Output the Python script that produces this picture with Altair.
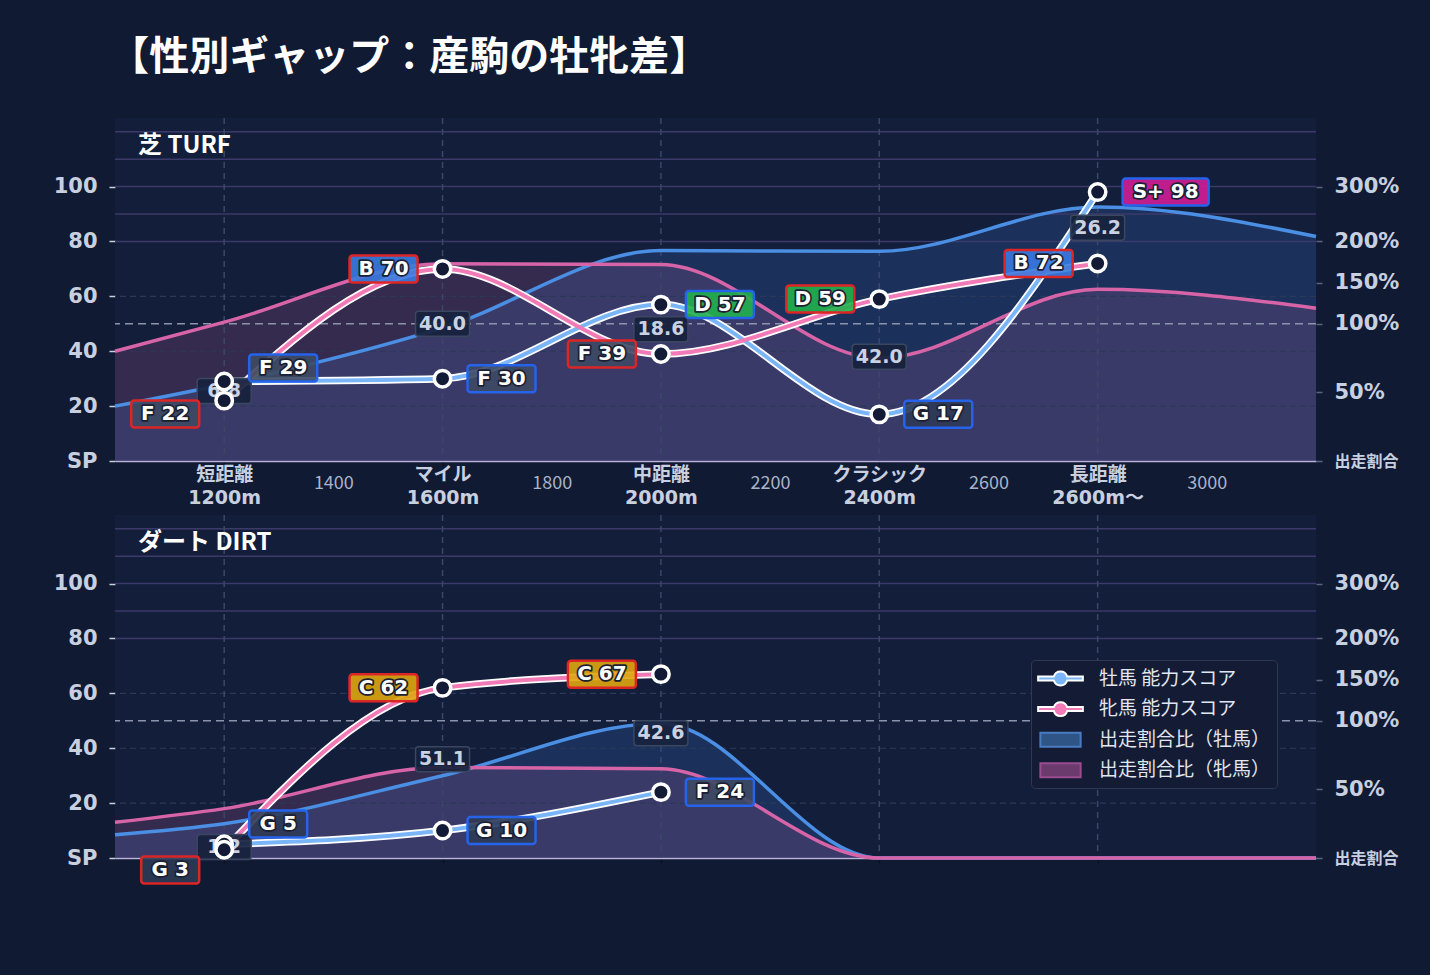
import altair as alt
import numpy as np
import pandas as pd

# ---------------- data ----------------
CATS = [1200, 1600, 2000, 2400, 2800]
CAT_NAMES = ["短距離", "マイル", "中距離", "クラシック", "長距離"]
CAT_DISTS = ["1200m", "1600m", "2000m", "2400m", "2600m〜"]
NUM_TICKS = [1400, 1800, 2200, 2600, 3000]
X_DOMAIN = [1000, 3200]

TURF_M_SCORE = [29, 30, 57, 17, 98]
TURF_M_GRADE = ["F", "F", "D", "G", "S+"]
TURF_F_SCORE = [22, 70, 39, 59, 72]
TURF_F_GRADE = ["F", "B", "F", "D", "B"]
TURF_GAP = [6.8, 40.0, 18.6, 42.0, 26.2]

DIRT_M_SCORE = [5, 10, 24]
DIRT_M_GRADE = ["G", "G", "F"]
DIRT_F_SCORE = [3, 62, 67]
DIRT_F_GRADE = ["G", "C", "C"]
DIRT_GAP = [1.2, 51.1, 42.6]

RATIO_X = [1000, 1200, 1600, 2000, 2400, 2800, 3200]
TURF_RATIO_M = [40, 56, 97, 189, 188, 263, 209]
TURF_RATIO_F = [80, 102, 173, 172, 75, 142, 119]
DIRT_RATIO_M = [17, 25, 60, 98, 0, 0, 0]
DIRT_RATIO_F = [26, 36, 66, 65, 0, 0, 0]

SCORE_TICKS = [0, 20, 40, 60, 80, 100]
RATIO_TICKS = [0, 50, 100, 150, 200, 300]
RATIO_AXIS_POS = [0, 25, 50, 65, 80, 100]
GRID_SOLID = [80, 90, 100, 110, 120]
GRID_DASH = [20, 40, 60]
RATIO_REF = 100

MAIN_TITLE = "【性別ギャップ：産駒の牡牝差】"
PANEL_TITLES = ["芝 TURF", "ダート DIRT"]
SERIES = ["牡馬 能力スコア", "牝馬 能力スコア", "出走割合比（牡馬）", "出走割合比（牝馬）"]
GRADES = ["S+", "B", "C", "D", "F", "G"]
GRADE_COLORS = ["#d11d96", "#3a7ae0", "#dfa50f", "#22b14c", "#3d4a64", "#2e3b56"]

# ---------------- style ----------------
W, H = 1201, 343
Y_DOMAIN = [0, 125]
BG = "#101a32"
PLOT_BG = "#131e3b"
M_LINE = "#79b5f7"
F_LINE = "#f27ab6"
M_RATIO = "#4a8fe3"
F_RATIO = "#d864a8"
M_BORDER = "#2563eb"
F_BORDER = "#dc2626"
TXT = "#c8d0e0"
NUM_FONT = "DejaVu Sans, Noto Sans CJK JP"
JP_FONT = "Noto Sans CJK JP"
BOX_W = {3: 58, 4: 68, 5: 86}
BOX_H = 27
GAP_W, GAP_H = 54, 25
NUDGE = 8.4  # score units, label separation when points collide
PX_OFF = 25


def ratio_to_pos(r):
    return np.interp(r, RATIO_TICKS, RATIO_AXIS_POS)


def box_path(w, h, r=3.0):
    hh = h / w
    rr = r / (w / 2.0)
    f = lambda v: f"{v:.4f}"
    return (f"M{f(-1+rr)},{f(-hh)}H{f(1-rr)}A{f(rr)},{f(rr)} 0 0 1 {f(1)},{f(-hh+rr)}"
            f"V{f(hh-rr)}A{f(rr)},{f(rr)} 0 0 1 {f(1-rr)},{f(hh)}H{f(-1+rr)}"
            f"A{f(rr)},{f(rr)} 0 0 1 {f(-1)},{f(hh-rr)}V{f(-hh+rr)}"
            f"A{f(rr)},{f(rr)} 0 0 1 {f(-1+rr)},{f(-hh)}Z")


LINE_SYM = ("M-2,-0.18L-0.594,-0.18A0.62,0.62 0 0 1 0.594,-0.18L2,-0.18L2,0.18"
            "L0.594,0.18A0.62,0.62 0 0 1 -0.594,0.18L-2,0.18Z")
RECT_SYM = "M-1.8,-0.62H1.8V0.62H-1.8Z"

xs = alt.Scale(domain=X_DOMAIN, nice=False, zero=False)
ys = alt.Scale(domain=Y_DOMAIN, nice=False, zero=False)

cat_test = "indexof([" + ",".join(str(c) for c in CATS) + "], datum.value) >= 0"
label_expr = ""
for c, nm, d in zip(CATS, CAT_NAMES, CAT_DISTS):
    label_expr += f"datum.value == {c} ? ['{nm}', '{d}'] : "
label_expr += "datum.label"

X_AXIS_TOP = alt.Axis(
    values=sorted(CATS + NUM_TICKS), format="d", labelExpr=label_expr, grid=False,
    domainColor="#b8b4da", domainWidth=1.5, tickSize=5, tickWidth=1.5,
    tickColor={"condition": {"test": cat_test, "value": "#0b1020"}, "value": "transparent"},
    labelFont={"condition": {"test": cat_test, "value": NUM_FONT}, "value": JP_FONT},
    labelFontWeight={"condition": {"test": cat_test, "value": "bold"}, "value": "normal"},
    labelFontSize={"condition": {"test": cat_test, "value": 19}, "value": 18},
    labelColor={"condition": {"test": cat_test, "value": TXT}, "value": "#a9b3c9"},
    labelBaseline={"condition": {"test": cat_test, "value": "middle"}, "value": "top"},
    labelPadding=8, labelLineHeight=23, labelAngle=0,
    labelFlush=False, labelOverlap=False, labelBound=False, title=None)

X_AXIS_BOTTOM = alt.Axis(values=CATS, labels=False, grid=False, domainColor="#b8b4da",
                         domainWidth=1.5, tickSize=5, tickWidth=1.5, tickColor="#0b1020",
                         title=None)

Y_LEFT = alt.Axis(orient="left", values=SCORE_TICKS,
                  labelExpr="datum.value == 0 ? 'SP' : datum.label", grid=False,
                  domain=False, tickSize=6, tickColor=TXT, tickWidth=1.5,
                  labelFont="DejaVu Sans", labelFontWeight="bold", labelFontSize=21,
                  labelColor=TXT, labelPadding=12, title=None)

r_expr = ""
for p, t in zip(RATIO_AXIS_POS, RATIO_TICKS):
    txt = "出走割合" if t == 0 else f"{t}%"
    r_expr += f"datum.value == {p} ? '{txt}' : "
r_expr += "''"
Y_RIGHT = alt.Axis(orient="right", values=RATIO_AXIS_POS, labelExpr=r_expr, grid=False,
                   domain=False, tickSize=6, tickColor="#5a6480", tickWidth=1.5,
                   labelFont=NUM_FONT, labelFontWeight="bold",
                   labelFontSize={"condition": {"test": "datum.value == 0", "value": 16},
                                  "value": 21},
                   labelColor=TXT, labelPadding=12, title=None)


def panel(title, m_score, m_grade, f_score, f_grade, gaps, ratio_m, ratio_f,
          x_axis, with_legend):
    n = len(m_score)
    cats = CATS[:n]

    rows = []
    gap_rows = []
    for i, c in enumerate(cats):
        m, f = m_score[i], f_score[i]
        mid = (m + f) / 2.0
        half = abs(m - f) / 2.0
        s = 1 if m >= f else -1
        if half < NUDGE:
            mly, fly = mid + s * NUDGE, mid - s * NUDGE
        else:
            mly, fly = m, f
        rows.append(dict(dist=c, sex="m", score=m, grade=m_grade[i], ly=mly))
        rows.append(dict(dist=c, sex="f", score=f, grade=f_grade[i], ly=fly))
        gap_rows.append(dict(dist=c, mid=mid, gap=f"{gaps[i]:.1f}"))
    sc = pd.DataFrame(rows)
    sc["label"] = sc["grade"] + " " + sc["score"].astype(str)
    sc["bw"] = sc["label"].str.len().map(BOX_W)
    sc["gfill"] = sc["grade"].map(dict(zip(GRADES, GRADE_COLORS)))
    sc["lc"] = sc["sex"].map({"m": M_LINE, "f": F_LINE})
    gp = pd.DataFrame(gap_rows)

    rt = pd.DataFrame({
        "dist": RATIO_X * 2,
        "sex": ["m"] * len(RATIO_X) + ["f"] * len(RATIO_X),
        "rv": list(ratio_to_pos(ratio_m)) + list(ratio_to_pos(ratio_f)),
    })

    X = lambda ax=None: alt.X("dist:Q", scale=xs, axis=ax, title=None)

    layers = []
    # ratio areas (first layer carries the x axis)
    rbase = alt.Chart(rt)
    layers.append(rbase.transform_filter("datum.sex == 'm'").mark_area(
        interpolate="monotone", fill="#3a78d0", fillOpacity=0.22).encode(
        x=X(x_axis), y=alt.Y("rv:Q", scale=ys, axis=Y_RIGHT, title=None)))
    layers.append(rbase.transform_filter("datum.sex == 'f'").mark_area(
        interpolate="monotone", fill="#b8609a", fillOpacity=0.2).encode(
        x=X(), y=alt.Y("rv:Q", scale=ys, axis=None)))

    # grid
    layers.append(alt.Chart(pd.DataFrame({"v": GRID_SOLID})).mark_rule(
        color="#3b3a6a", strokeWidth=1.5).encode(y=alt.Y("v:Q", scale=ys, axis=None)))
    layers.append(alt.Chart(pd.DataFrame({"v": GRID_DASH})).mark_rule(
        color="#2c3858", strokeWidth=1.2, strokeDash=[6, 4]).encode(
        y=alt.Y("v:Q", scale=ys, axis=None)))
    layers.append(alt.Chart(pd.DataFrame({"v": [float(ratio_to_pos(RATIO_REF))]})).mark_rule(
        color="#8c94ac", strokeWidth=1.5, strokeDash=[8, 5]).encode(
        y=alt.Y("v:Q", scale=ys, axis=None)))
    layers.append(alt.Chart(pd.DataFrame({"d": CATS})).mark_rule(
        color="#3c4768", strokeWidth=1.5, strokeDash=[6, 5]).encode(
        x=alt.X("d:Q", scale=xs, axis=None)))

    # ratio lines
    layers.append(rbase.transform_filter("datum.sex == 'm'").mark_line(
        interpolate="monotone", color=M_RATIO, strokeWidth=3.5).encode(
        x=X(), y=alt.Y("rv:Q", scale=ys, axis=None)))
    layers.append(rbase.transform_filter("datum.sex == 'f'").mark_line(
        interpolate="monotone", color=F_RATIO, strokeWidth=3.5).encode(
        x=X(), y=alt.Y("rv:Q", scale=ys, axis=None)))

    # score lines
    sbase = alt.Chart(sc)
    layers.append(sbase.mark_line(interpolate="monotone", color="white", strokeWidth=7.5,
                                  strokeCap="round").encode(
        x=X(), y=alt.Y("score:Q", scale=ys, axis=Y_LEFT, title=None),
        detail="sex:N"))
    layers.append(sbase.mark_line(interpolate="monotone", strokeWidth=4,
                                  strokeCap="round").encode(
        x=X(), y=alt.Y("score:Q", scale=ys, axis=None),
        stroke=alt.Stroke("lc:N", scale=None), detail="sex:N"))

    # gap labels
    gbase = alt.Chart(gp).encode(x=X(), y=alt.Y("mid:Q", scale=ys, axis=None))
    layers.append(gbase.mark_point(shape=box_path(GAP_W, GAP_H), size=GAP_W ** 2,
                                   filled=True, fill="#17223d", fillOpacity=0.92,
                                   stroke="#3a4760", strokeWidth=1.5, opacity=1))
    layers.append(gbase.mark_text(font=NUM_FONT, fontWeight="bold", fontSize=19,
                                  color="#c9d2e3", baseline="middle", align="center").encode(
        text="gap:N"))

    # points
    layers.append(sbase.mark_point(shape="circle", filled=True, fill="#121a35",
                                   stroke="white", strokeWidth=3.5, size=270, opacity=1).encode(
        x=X(), y=alt.Y("score:Q", scale=ys, axis=None)))

    # grade labels
    for sex, sign, border in [("m", 1, M_BORDER), ("f", -1, F_BORDER)]:
        for w in sorted(set(sc.loc[sc.sex == sex, "bw"])):
            off = sign * (PX_OFF + w / 2.0)
            sub = sbase.transform_filter(f"datum.sex == '{sex}' && datum.bw == {w}").encode(
                x=X(), y=alt.Y("ly:Q", scale=ys, axis=None))
            layers.append(sub.mark_point(shape=box_path(w, BOX_H), size=w ** 2, filled=True,
                                         xOffset=off, fillOpacity=0.9, stroke=border,
                                         strokeWidth=2.5, opacity=1).encode(
                fill=alt.Fill("gfill:N", scale=None)))
            layers.append(sub.mark_text(dx=off, font=NUM_FONT, fontWeight="bold", fontSize=20,
                                        fill="#1b2033", stroke="#1b2033", strokeWidth=3.5,
                                        strokeJoin="round", baseline="middle",
                                        align="center").encode(text="label:N"))
            layers.append(sub.mark_text(dx=off, font=NUM_FONT, fontWeight="bold", fontSize=20,
                                        fill="white", baseline="middle",
                                        align="center").encode(text="label:N"))

    # panel title, anchored at the top-left corner of the plot domain
    layers.append(alt.Chart(pd.DataFrame({"t": [title]})).mark_text(
        dx=23, dy=28, align="left", baseline="middle", font=JP_FONT, fontWeight="bold",
        fontSize=24, color="white").encode(
        x=alt.XDatum(X_DOMAIN[0], scale=xs, axis=None),
        y=alt.YDatum(Y_DOMAIN[1], scale=ys, axis=None),
        text="t:N"))

    if with_legend:
        leg = alt.Legend(orient="none", legendX=916, legendY=145, title=None,
                         labelFont=JP_FONT, labelFontSize=19, labelColor="#e2e6f0",
                         fillColor="#131c34", strokeColor="#2e3852", cornerRadius=4,
                         padding=6, symbolSize=500, symbolStrokeWidth=2, symbolOffset=11,
                         labelOffset=26, rowPadding=6.6, symbolOpacity=1, labelLimit=400)
        ldf = pd.DataFrame({"series": SERIES})
        layers.append(alt.Chart(ldf).mark_point(filled=True, opacity=0).encode(
            x=alt.value(0), y=alt.value(0),
            fill=alt.Fill("series:N", scale=alt.Scale(
                domain=SERIES, range=[M_LINE, F_LINE, "#2f5586", "#6a3b6c"]), legend=leg),
            stroke=alt.Stroke("series:N", scale=alt.Scale(
                domain=SERIES, range=["white", "white", "#4a7bc0", "#9a4c8e"]), legend=leg),
            shape=alt.Shape("series:N", scale=alt.Scale(
                domain=SERIES, range=[LINE_SYM, LINE_SYM, RECT_SYM, RECT_SYM]), legend=leg),
        ))

    return alt.layer(*layers).resolve_axis(x="independent", y="independent").properties(
        width=W, height=H)


top = panel(PANEL_TITLES[0], TURF_M_SCORE, TURF_M_GRADE, TURF_F_SCORE, TURF_F_GRADE,
            TURF_GAP, TURF_RATIO_M, TURF_RATIO_F, X_AXIS_TOP, False)
bottom = panel(PANEL_TITLES[1], DIRT_M_SCORE, DIRT_M_GRADE, DIRT_F_SCORE, DIRT_F_GRADE,
               DIRT_GAP, DIRT_RATIO_M, DIRT_RATIO_F, X_AXIS_BOTTOM, True)

chart = alt.vconcat(top, bottom, spacing=6).resolve_scale(
    fill="independent", stroke="independent", shape="independent"
).properties(
    title=alt.TitleParams(text=MAIN_TITLE, anchor="start", frame="bounds",
                          dx=56, offset=39, fontSize=40, font=JP_FONT, fontWeight="bold",
                          color="white"),
    background=BG,
    padding={"left": 53, "top": 38, "right": 28, "bottom": 84},
).configure_view(fill=PLOT_BG, stroke=None)

chart.save("out.html", embed_options={"renderer": "svg", "actions": False})

# page background matches the chart background so the whole window is dark
with open("out.html", encoding="utf-8") as fh:
    html = fh.read()
html = html.replace("<head>", f"<head><style>html,body{{background:{BG};margin:0;}}</style>", 1)
with open("out.html", "w", encoding="utf-8") as fh:
    fh.write(html)
